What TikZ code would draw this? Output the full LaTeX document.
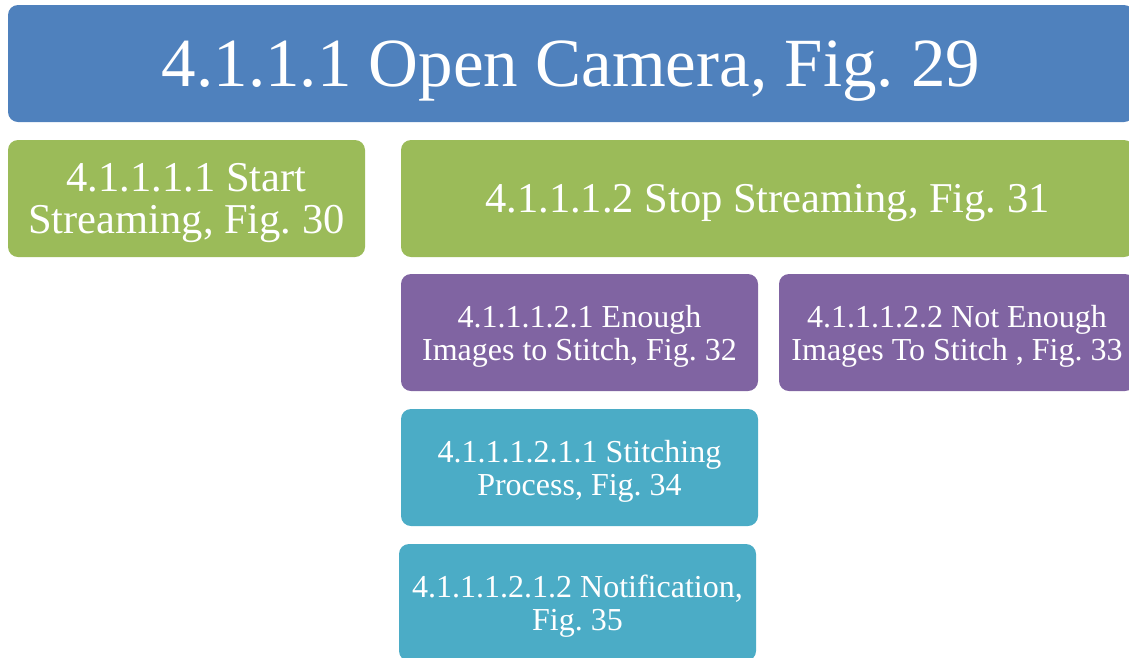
\documentclass[tikz,border=0pt]{standalone}
\usepackage{fontspec}
\setmainfont{Liberation Serif}
\definecolor{hdrblue}{HTML}{4F81BD}
\definecolor{lvlgreen}{HTML}{9BBB59}
\definecolor{lvlpurple}{HTML}{8064A2}
\definecolor{lvlteal}{HTML}{4BACC6}
\tikzset{
  tile/.style={rounded corners=10pt, inner sep=0pt, text=white, align=center,
    minimum height=117pt, text depth=0pt},
  bigtxt/.style={font=\fontsize{69}{69}\selectfont},
  midtxt/.style={font=\fontsize{42.5}{42}\selectfont},
  smalltxt/.style={font=\fontsize{32}{33}\selectfont},
}
\frenchspacing
\begin{document}
\begin{tikzpicture}[x=1pt, y=-1pt]
  \useasboundingbox (0,0) rectangle (1129,657);
  \clip (0,0) rectangle (1129,657);
  % level 1
  \node[tile, bigtxt, fill=hdrblue, minimum width=1126pt] (open) at (571,63.5)
    {4.1.1.1 Open Camera, Fig. 29};
  % level 2
  \node[tile, midtxt, fill=lvlgreen, minimum width=357pt] (start) at (186.5,198.5)
    {4.1.1.1.1 Start\\Streaming, Fig. 30};
  \node[tile, midtxt, fill=lvlgreen, minimum width=733pt] (stop) at (767.5,198.5)
    {4.1.1.1.2 Stop Streaming, Fig. 31};
  % level 3
  \node[tile, smalltxt, fill=lvlpurple, minimum width=357pt] (enough) at (579.5,332.5)
    {4.1.1.1.2.1 Enough\\Images to Stitch, Fig. 32};
  \node[tile, smalltxt, fill=lvlpurple, minimum width=356pt] (notenough) at (957,332.5)
    {4.1.1.1.2.2 Not Enough\\Images To Stitch , Fig. 33};
  % level 4
  \node[tile, smalltxt, fill=lvlteal, minimum width=357pt] (stitching) at (579.5,467.5)
    {4.1.1.1.2.1.1 Stitching\\Process, Fig. 34};
  \node[tile, smalltxt, fill=lvlteal, minimum width=357pt] (notify) at (577.5,602.5)
    {4.1.1.1.2.1.2 Notification,\\Fig. 35};
\end{tikzpicture}
\end{document}
